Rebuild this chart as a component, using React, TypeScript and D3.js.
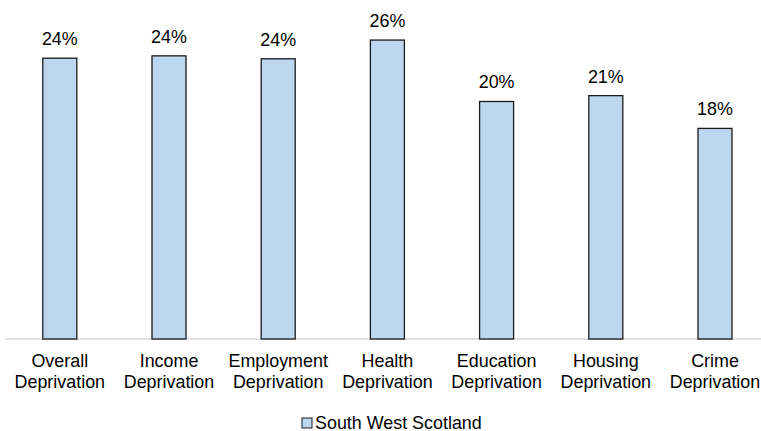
import React from "react";
import * as d3 from "d3";

const categoriesLine1 = ["Overall", "Income", "Employment", "Health", "Education", "Housing", "Crime"];
const categoriesLine2 = ["Deprivation", "Deprivation", "Deprivation", "Deprivation", "Deprivation", "Deprivation", "Deprivation"];
const values = [24.0, 24.2, 23.95, 25.55, 20.3, 20.8, 18.0];
const seriesName = "South West Scotland";

const W = 761;
const H = 431;
const baseline = 339;
const FONT = "'Liberation Sans', Arial, sans-serif";
const FS = 17.9;

export default function App() {
  const keys = categoriesLine1.map((c, i) => c + " " + categoriesLine2[i]);
  const x = d3.scaleBand<string>().domain(keys).range([5.2, 5.2 + 109.2 * 7]).padding(0);
  const y = d3.scaleLinear().domain([0, 28]).range([baseline, baseline - 28 * 11.7]);
  const barW = 34;
  return (
    <svg width={W} height={H} style={{ position: "absolute", left: 0, top: 0, background: "#fff" }}>
      <line x1={5} x2={761} y1={baseline} y2={baseline} stroke="#d9d9d9" strokeWidth={1.5} />
      {keys.map((k, i) => {
        const cx = (x(k) as number) + x.bandwidth() / 2;
        const top = y(values[i]);
        return (
          <g key={k}>
            <rect x={cx - barW / 2} y={top} width={barW} height={baseline - top} fill="#bdd7ee" stroke="#1a1a1a" strokeWidth={1.3} />
            <text x={cx} y={top - 13} textAnchor="middle" fontFamily={FONT} fontSize={FS} fill="#000">
              {d3.format(".0f")(values[i]) + "%"}
            </text>
            <text x={cx} y={367} textAnchor="middle" fontFamily={FONT} fontSize={FS} fill="#000">{categoriesLine1[i]}</text>
            <text x={cx} y={387.5} textAnchor="middle" fontFamily={FONT} fontSize={FS} fill="#000">{categoriesLine2[i]}</text>
          </g>
        );
      })}
      <rect x={302} y={418} width={10} height={10} fill="#bdd7ee" stroke="#1a1a1a" strokeWidth={1} />
      <text x={315} y={428.5} fontFamily={FONT} fontSize={FS} fill="#000">{seriesName}</text>
    </svg>
  );
}
